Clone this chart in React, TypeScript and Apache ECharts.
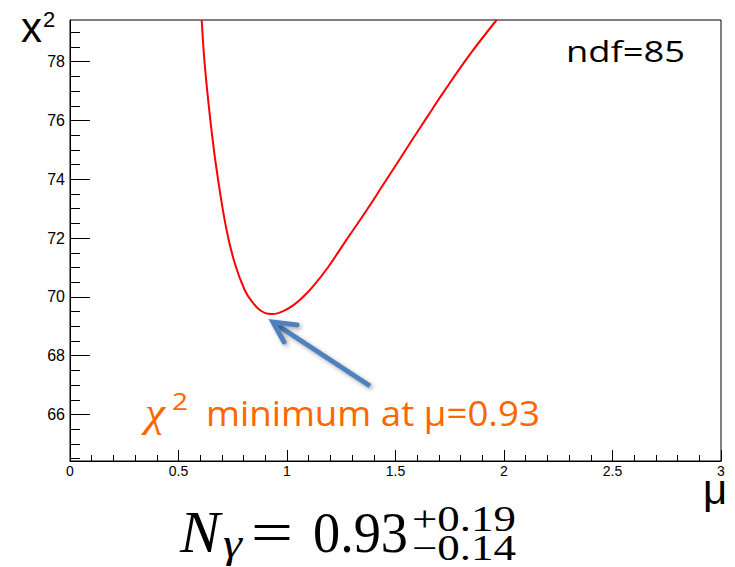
import React, { useEffect, useRef } from "react";
import * as echarts from "echarts";

// ---- data ----
const muValues = [0.607, 0.622, 0.654, 0.683, 0.722, 0.76, 0.806, 0.84, 0.872, 0.9, 0.93, 0.96, 0.99, 1.03, 1.07, 1.12, 1.19, 1.27, 1.367, 1.44, 1.521, 1.58, 1.644, 1.72, 1.843, 1.966];
const chi2Values = [79.42, 77.81, 75.55, 73.96, 72.26, 71.13, 70.22, 69.83, 69.57, 69.45, 69.42, 69.45, 69.54, 69.72, 69.97, 70.36, 71.02, 71.9, 72.95, 73.78, 74.7, 75.38, 76.1, 76.95, 78.25, 79.42];
const xRange = [0, 3];
const yRange = [64.42, 79.42];
const xTickInterval = 0.5;
const yTickValues = [66, 68, 70, 72, 74, 76, 78];
const yMinorTickValues = [64.5, 65, 65.5, 66.5, 67, 67.5, 68.5, 69, 69.5, 70.5, 71, 71.5, 72.5, 73, 73.5, 74.5, 75, 75.5, 76.5, 77, 77.5, 78.5, 79];
const ndfText = "ndf=85";
const minimumText = "minimum at μ=0.93";
const bestFit = "0.93";
const errUp = "+0.19";
const errDown = "−0.14";

// central-baseline offsets (fraction of font size) for the fonts used
const CENTRAL: Record<string, number> = {
  "Liberation Sans": 0.3465,
  "Liberation Serif": 0.3375,
  "Open Sans": 0.388,
};

let measureCtx: CanvasRenderingContext2D | null = null;
function measure(text: string, font: string): number {
  if (!measureCtx) measureCtx = document.createElement("canvas").getContext("2d");
  if (!measureCtx) return 1;
  measureCtx.font = font;
  return measureCtx.measureText(text).width || 1;
}

function label(
  text: string,
  family: string,
  size: number,
  color: string,
  left: number,
  baseline: number,
  width?: number,
  italic?: boolean
) {
  const font = `${italic ? "italic " : ""}${size}px "${family}"`;
  const w = measure(text, font);
  const sx = width ? width / w : 1;
  return {
    type: "text",
    x: left,
    y: baseline - (CENTRAL[family] ?? 0.34) * size,
    scaleX: sx,
    silent: true,
    style: {
      text,
      font,
      fill: color,
      align: "left",
      verticalAlign: "middle",
      textAlign: "left",
      textVerticalAlign: "middle",
    },
  };
}

const ORANGE = "#FF6600";
const BLUE = "#4F81BD";

export default function App() {
  const ref = useRef<HTMLDivElement>(null);
  useEffect(() => {
    if (!ref.current) return;
    const chart = echarts.init(ref.current, undefined, { renderer: "svg" });
    const axisColor = "#000";
    const arrowShadow = {
      shadowBlur: 4,
      shadowColor: "rgba(0,0,0,0.35)",
      shadowOffsetX: 2,
      shadowOffsetY: 2,
    };
    chart.setOption({
      animation: false,
      backgroundColor: "#fff",
      grid: {
        left: 70,
        top: 20,
        width: 651,
        height: 441,
        show: true,
        borderColor: "#000",
        borderWidth: 1,
        containLabel: false,
      },
      xAxis: {
        type: "value",
        min: xRange[0],
        max: xRange[1],
        interval: xTickInterval,
        axisLine: { show: true, onZero: false, lineStyle: { color: axisColor, width: 1 } },
        axisTick: { show: true, inside: true, length: 11, lineStyle: { color: axisColor } },
        minorTick: { show: true, splitNumber: 5, length: 6, lineStyle: { color: axisColor } },
        splitLine: { show: false },
        axisLabel: {
          show: true,
          fontFamily: "Liberation Sans",
          fontSize: 14,
          color: "#000",
          margin: 3,
          showMinLabel: true,
          showMaxLabel: true,
        },
      },
      yAxis: [
        {
          type: "value",
          min: yRange[0],
          max: yRange[1],
          splitNumber: 7,
          axisLine: { show: true, onZero: false, lineStyle: { color: axisColor, width: 1 } },
          axisTick: { show: true, inside: true, length: 20, customValues: yTickValues, lineStyle: { color: axisColor } },
          splitLine: { show: false },
          axisLabel: {
            show: true,
            customValues: yTickValues,
            fontFamily: "Liberation Sans",
            fontSize: 16,
            color: "#000",
            margin: 5,
          },
        },
        {
          type: "value",
          min: yRange[0],
          max: yRange[1],
          position: "left",
          axisLine: { show: false },
          axisTick: { show: true, inside: true, length: 10, customValues: yMinorTickValues, lineStyle: { color: axisColor } },
          splitLine: { show: false },
          axisLabel: { show: false },
        },
      ],
      series: [
        {
          type: "line",
          data: muValues.map((m, i) => [m, chi2Values[i]]),
          smooth: 0.4,
          showSymbol: false,
          clip: true,
          lineStyle: { color: "#FF0000", width: 2 },
          itemStyle: { color: "#FF0000" },
        },
      ],
      graphic: [
        // y axis title  x²
        label("x", "Liberation Sans", 42, "#000", 21, 42),
        label("2", "Liberation Sans", 22, "#000", 43, 27),
        // x axis title  μ
        label("μ", "Liberation Sans", 42, "#000", 703, 504),
        // ndf
        label(ndfText, "Open Sans", 30, "#000", 566, 62, 119),
        // annotation  χ² minimum at μ=0.93
        label("χ", "Liberation Serif", 40, ORANGE, 145, 426, 20, true),
        label("2", "Open Sans", 24, ORANGE, 172, 410, 16),
        label(minimumText, "Open Sans", 35, ORANGE, 206, 426, 334),
        // arrow
        {
          type: "group",
          silent: true,
          children: [
            {
              type: "line",
              shape: { x1: 370, y1: 386, x2: 277, y2: 325 },
              style: { stroke: BLUE, lineWidth: 5, lineCap: "butt", ...arrowShadow },
            },
            {
              type: "polyline",
              shape: { points: [[297, 325], [273, 322], [284, 342]] },
              style: { stroke: BLUE, lineWidth: 5, fill: null, lineJoin: "miter", lineCap: "round", ...arrowShadow },
            },
          ],
        },
        // formula  N_γ = 0.93 (+0.19 / −0.14)
        label("N", "Liberation Serif", 60, "#000", 180, 552, 40, true),
        label("γ", "Liberation Serif", 40, "#000", 223, 557, 19, true),
        label("=", "Liberation Serif", 60, "#000", 251, 552, 42),
        label(bestFit, "Liberation Serif", 58, "#000", 313, 552, 95),
        label(errUp, "Liberation Serif", 36, "#000", 412, 531, 104),
        label(errDown, "Liberation Serif", 35, "#000", 412, 560, 104),
      ],
    });
    return () => chart.dispose();
  }, []);
  return (
    <div
      ref={ref}
      style={{ position: "absolute", left: 0, top: 0, width: 735, height: 567, background: "#fff" }}
    />
  );
}
